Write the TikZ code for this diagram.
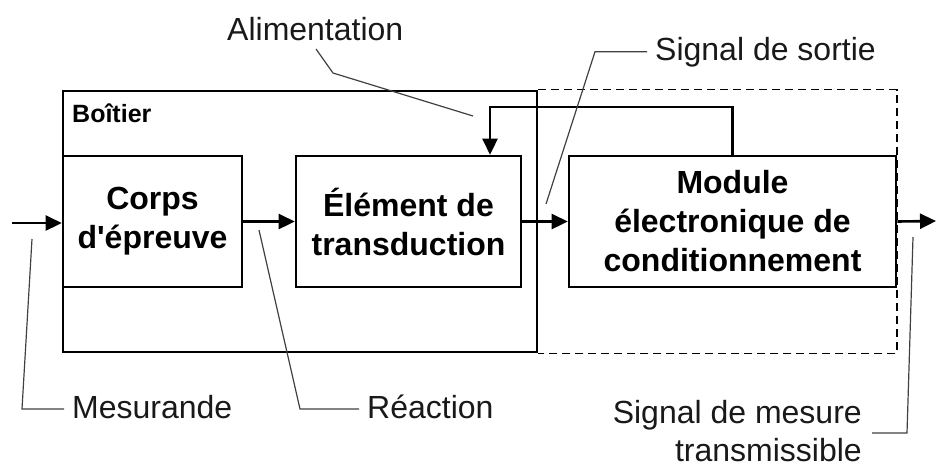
\documentclass[tikz,border=0pt]{standalone}
\usepackage{fontspec}
\newfontfamily\lsans{Liberation Sans}
\usetikzlibrary{arrows.meta,calc}
\begin{document}
\begin{tikzpicture}[x=1pt,y=-1pt,
  box/.style={draw,line width=2.6pt,minimum width=#1,minimum height=131pt,inner sep=0pt,align=center,font=\lsans\bfseries\fontsize{32}{39}\selectfont},
  lbl/.style={inner ysep=0pt,inner xsep=8pt,font=\lsans\fontsize{32}{38}\selectfont,text=black!90},
  lead/.style={line width=1.2pt,draw=black!75},
  arr/.style={line width=2.6pt,-{Triangle[length=16pt,width=15pt]}},
  thickline/.style={line width=2.6pt},
  dashline/.style={line width=1.4pt,dash pattern=on 8pt off 5pt},
]
\useasboundingbox (0,0) rectangle (936,464);

% enclosure
\node[draw,thickline,minimum width=474pt,minimum height=261pt,inner sep=0pt] (boit) at (300,221.5) {};
\node[anchor=base west,inner sep=0pt,font=\lsans\bfseries\fontsize{25}{30}\selectfont] (boitlbl) at (72,122) {Boîtier};
\coordinate (dr) at (897,352);
\draw[dashline] (boit.north east) -| (dr) |- (boit.south east);

% blocks
\node[box=179pt] (corps) at (152.5,221.5) {Corps\\d'épreuve};
\node[box=225pt] (elem) at (408.5,221.5) {Élément de\\transduction};
\node[box=327pt] (mod) at (732.5,221.5) {Module\\électronique de\\conditionnement};

% signal path
\coordinate (in) at (12,223);
\coordinate (out) at (936,221);
\draw[arr] (in) -- (in -| corps.west);
\draw[arr] (corps.east) -- (elem.west);
\draw[arr] (elem.east) -- (mod.west);
\draw[arr] (mod.east) -- (out);

% supply feedback
\coordinate (fb) at (490,107);
\draw[arr] (mod.north) |- (fb) -- (fb |- elem.north);

% labels
\node[lbl,anchor=base west] (ali) at (219,40) {Alimentation};
\node[lbl,anchor=base west] (sor) at (647,60) {Signal de sortie};
\node[lbl,anchor=base west] (mes) at (64,418) {Mesurande};
\node[lbl,anchor=base west] (rea) at (359,418) {Réaction};
\node[lbl,anchor=north east,align=right,inner xsep=10pt] (smt) at (872,400) {Signal de mesure\\transmissible};

% leader lines
\coordinate (a1) at (316,49);
\coordinate (a2) at (333,73);
\coordinate (a3) at (473,116);
\draw[lead] (a1) -- (a2) -- (a3);

\coordinate (s1) at (595,50);
\coordinate (s2) at (546,204);
\draw[lead] (sor.west) -- (sor.west -| s1) -- (s2);

\coordinate (m1) at (32,239);
\coordinate (m2) at (22,409);
\draw[lead] (m1) -- (m2) -- (m2 -| mes.west);

\coordinate (r1) at (259,230);
\coordinate (r2) at (300,409);
\draw[lead] (r1) -- (r2) -- (r2 -| rea.west);

\coordinate (t1) at (913,237);
\coordinate (t2) at (907,433);
\draw[lead] (t1) -- (t2) -- (t2 -| smt.east);
\end{tikzpicture}
\end{document}
